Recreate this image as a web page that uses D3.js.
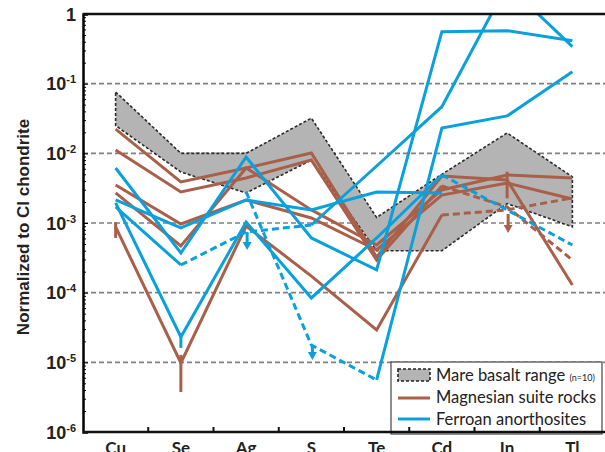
<!DOCTYPE html>
<html>
<head>
<meta charset="utf-8">
<script src="https://cdn.jsdelivr.net/npm/d3@7"></script>
<style>
  body { margin: 0; background: #fff; }
  svg { display: block; }
</style>
</head>
<body>
<div id="chart"></div>
<script>
// categories + tick values
const categories = ["Cu", "Se", "Ag", "S", "Te", "Cd", "In", "Tl"];
const yTicks = [1, 1e-1, 1e-2, 1e-3, 1e-4, 1e-5, 1e-6];
const yExponents = [0, -1, -2, -3, -4, -5, -6];

// mare basalt range (n=10)
const mareUpper = [0.076, 0.010, 0.010, 0.032, 0.0012, 0.0050, 0.0196, 0.0046];
const mareLower = [0.025, 0.0054, 0.0027, 0.0080, 0.0004, 0.0004, 0.0019, 0.00088];

// magnesian suite rocks
const mg1 = [0.0223, 0.00388, 0.00616, 0.0101, 0.000325, 0.00473, 0.00414, 0.000129];
const mg2 = [0.0112, 0.00279, 0.00443, 0.0080, 0.000294, 0.00340, 0.00170, 0.000294];
const mg3 = [0.00351, 0.000968, 0.00214, 0.00118, 0.00041, 0.00252, 0.00375, 0.00221];
const mg4 = [0.00270, 0.000468, 0.00616, 0.00154, 0.000483, 0.00298, 0.00489, 0.00443];
const mg5 = [0.000877, 0.0000098, 0.000906, 0.000173, 0.0000291, 0.00130, 0.00154, 0.00229];
const mgSamples = [mg1, mg2, mg3, mg4, mg5];
const mgDashedSegs = [[], [5, 6], [], [], [5, 6]];

// ferroan anorthosites
const fa1 = [0.00616, 0.000371, 0.00886, 0.00061, 0.000212, 0.557, 0.576, 0.414];
const fa2 = [0.00214, 0.000848, 0.00214, 0.00154, 0.00279, 0.00270, null, null];
const fa3 = [0.00194, 0.0000231, 0.00103, 0.0000839, 0.00061, 0.00489, 0.00154, 0.000483];
const fa4 = [0.00170, 0.00025, 0.000743, 0.000936, 0.00658, 0.0467, 2.65, 0.34];
const fa5 = [null, null, 0.00279, 0.0000177, 0.00000558, 0.0231, 0.0344, 0.1485];
const faSamples = [fa1, fa2, fa3, fa4, fa5];
const faDashedSegs = [[], [], [5, 6], [1, 2], [2, 3]];

// error bars and upper-limit arrows
const barCats = ["Cu", "Se", "In", "Se"];
const barHigh = [0.00103, 0.0000128, 0.00545, 0.0000264];
const barLow = [0.00061, 0.00000375, 0.00226, 0.0000161];
const barGroup = ["mg", "mg", "mg", "fa"];
const arrowCats = ["Ag", "S", "In"];
const arrowFrom = [0.00074, 0.0000177, 0.00135];
const arrowTo = [0.00041, 0.0000108, 0.00072];
const arrowGroup = ["fa", "fa", "mg"];

const W = 605, H = 452;
const mLeft = 83, mRight = 605, mTop = 14, mBottom = 432;
const colors = { mg: "#a95f49", fa: "#0aa0dc" };

const svg = d3.select("#chart").append("svg")
  .attr("width", W).attr("height", H)
  .attr("viewBox", `0 0 ${W} ${H}`);

const x = d3.scaleBand().domain(categories).range([mLeft, mRight]);
const cx = (c) => x(c) + x.bandwidth() / 2;
const y = d3.scaleLog().domain([1e-6, 1]).range([mBottom, mTop]);

svg.append("defs").append("clipPath").attr("id", "plot")
  .append("rect").attr("x", mLeft).attr("y", mTop)
  .attr("width", mRight - mLeft).attr("height", mBottom - mTop);

// gridlines
svg.append("g")
  .selectAll("line")
  .data(yTicks.slice(1, -1))
  .join("line")
  .attr("x1", mLeft).attr("x2", mRight)
  .attr("y1", (d) => y(d)).attr("y2", (d) => y(d))
  .attr("stroke", "#808080")
  .attr("stroke-width", 1.6)
  .attr("stroke-dasharray", "5,3");

const plot = svg.append("g").attr("clip-path", "url(#plot)");

// mare basalt polygon
const ring = categories.map((c, i) => [cx(c), y(mareUpper[i])])
  .concat(categories.map((c, i) => [cx(c), y(mareLower[i])]).reverse());
plot.append("path")
  .attr("d", d3.line()(ring) + "Z")
  .attr("fill", "#b4b4b4")
  .attr("stroke", "#2a2a2a")
  .attr("stroke-width", 1.6)
  .attr("stroke-dasharray", "3,2");

// split a sample into runs of solid / dashed segments
function runs(values, dashedSegs) {
  const out = [];
  let cur = null;
  for (let i = 0; i < values.length - 1; i++) {
    if (values[i] == null || values[i + 1] == null) { cur = null; continue; }
    const dashed = dashedSegs.includes(i);
    if (!cur || cur.dashed !== dashed) {
      cur = { dashed, pts: [[cx(categories[i]), y(values[i])]] };
      out.push(cur);
    }
    cur.pts.push([cx(categories[i + 1]), y(values[i + 1])]);
  }
  return out;
}

function drawGroup(samples, dashedSegs, color) {
  const g = plot.append("g");
  samples.forEach((vals, k) => {
    runs(vals, dashedSegs[k]).forEach((r) => {
      g.append("path")
        .attr("d", d3.line()(r.pts))
        .attr("fill", "none")
        .attr("stroke", color)
        .attr("stroke-width", 3)
        .attr("stroke-linejoin", "miter")
        .attr("stroke-dasharray", r.dashed ? "7,4" : null);
    });
  });
}

drawGroup(mgSamples, mgDashedSegs, colors.mg);

// bars
plot.append("g")
  .selectAll("line")
  .data(barCats.map((c, i) => ({ c, hi: barHigh[i], lo: barLow[i], g: barGroup[i] })))
  .join("line")
  .attr("x1", (d) => cx(d.c)).attr("x2", (d) => cx(d.c))
  .attr("y1", (d) => y(d.hi)).attr("y2", (d) => y(d.lo))
  .attr("stroke", (d) => colors[d.g])
  .attr("stroke-width", 3);

drawGroup(faSamples, faDashedSegs, colors.fa);

// arrows (upper limits)
const arrowData = arrowCats.map((c, i) => ({ c, from: arrowFrom[i], to: arrowTo[i], g: arrowGroup[i] }));
const ag = plot.append("g");
arrowData.forEach((d) => {
  const ax = cx(d.c) + 1, y0 = y(d.from), y1 = y(d.to);
  ag.append("line")
    .attr("x1", ax).attr("x2", ax).attr("y1", y0).attr("y2", y1 - 6)
    .attr("stroke", colors[d.g]).attr("stroke-width", 3);
  ag.append("path")
    .attr("d", `M${ax - 4.5},${y1 - 8}L${ax + 4.5},${y1 - 8}L${ax},${y1}Z`)
    .attr("fill", colors[d.g]);
});

// legend
const lg = svg.append("g");
lg.append("rect")
  .attr("x", 391).attr("y", 362).attr("width", 211).attr("height", 72)
  .attr("fill", "#fff").attr("stroke", "#444").attr("stroke-width", 1.2);
lg.append("rect")
  .attr("x", 398).attr("y", 369).attr("width", 32).attr("height", 12)
  .attr("fill", "#b4b4b4").attr("stroke", "#222")
  .attr("stroke-width", 1.6).attr("stroke-dasharray", "3,2");
lg.append("line").attr("x1", 398).attr("x2", 430).attr("y1", 398).attr("y2", 398)
  .attr("stroke", colors.mg).attr("stroke-width", 3);
lg.append("line").attr("x1", 398).attr("x2", 430).attr("y1", 419).attr("y2", 419)
  .attr("stroke", colors.fa).attr("stroke-width", 3);
const legendText = lg.append("g")
  .attr("font-family", "Lato, 'Open Sans', sans-serif")
  .attr("font-size", 16.5)
  .attr("fill", "#222");
const t1 = legendText.append("text").attr("x", 436).attr("y", 381);
t1.append("tspan").text("Mare basalt range ");
t1.append("tspan").attr("font-size", 9).text("(n=10)");
legendText.append("text").attr("x", 436).attr("y", 403).text("Magnesian suite rocks");
legendText.append("text").attr("x", 436).attr("y", 424.5).text("Ferroan anorthosites");

// left axis with inward ticks
svg.append("g")
  .attr("transform", `translate(${mLeft},0)`)
  .call(d3.axisLeft(y).tickValues(yTicks).tickSize(-5).tickFormat(""))
  .call((g) => g.select(".domain").attr("stroke-width", 2.5));
const minor = [];
yTicks.slice(1).forEach((t) => { for (let m = 2; m < 10; m++) minor.push(t * m); });
svg.append("g")
  .attr("transform", `translate(${mLeft},0)`)
  .call(d3.axisLeft(y).tickValues(minor).tickSize(-3).tickFormat(""))
  .call((g) => g.select(".domain").remove());

// y tick labels with superscripts
const yl = svg.append("g")
  .attr("font-family", "'Liberation Sans', Arial, sans-serif")
  .attr("font-weight", "bold")
  .attr("fill", "#222")
  .attr("text-anchor", "end");
yTicks.forEach((t, i) => {
  const tx = yl.append("text").attr("x", 76).attr("y", y(t) + 6.5).attr("font-size", 18);
  if (yExponents[i] === 0) {
    tx.text("1");
  } else {
    tx.append("tspan").text("10");
    tx.append("tspan").attr("font-size", 11).attr("dy", -7).text(yExponents[i]);
  }
});

svg.append("text")
  .attr("transform", `translate(29,${(mTop + mBottom) / 2 + 4}) rotate(-90)`)
  .attr("text-anchor", "middle")
  .attr("font-family", "'Liberation Sans', Arial, sans-serif")
  .attr("font-weight", "bold")
  .attr("font-size", 17)
  .attr("fill", "#222")
  .text("Normalized to CI chondrite");

// top frame line
svg.append("line")
  .attr("x1", mLeft).attr("x2", mRight).attr("y1", mTop).attr("y2", mTop)
  .attr("stroke", "#111").attr("stroke-width", 2.5);

// bottom axis: ticks on band boundaries, labels at centres
const xb = svg.append("g").attr("transform", `translate(0,${mBottom})`);
xb.append("line").attr("x1", mLeft).attr("x2", mRight)
  .attr("stroke", "#111").attr("stroke-width", 2.5);
xb.selectAll("line.tick")
  .data(categories.slice(1))
  .join("line")
  .attr("class", "tick")
  .attr("x1", (c) => x(c)).attr("x2", (c) => x(c))
  .attr("y1", 0).attr("y2", -5)
  .attr("stroke", "#111").attr("stroke-width", 2);
xb.selectAll("text")
  .data(categories)
  .join("text")
  .attr("x", (c) => cx(c))
  .attr("y", 22)
  .attr("text-anchor", "middle")
  .attr("font-family", "Lato, 'Open Sans', sans-serif")
  .attr("font-weight", "bold")
  .attr("font-size", 17)
  .attr("fill", "#222")
  .text((c) => c);
</script>
</body>
</html>
